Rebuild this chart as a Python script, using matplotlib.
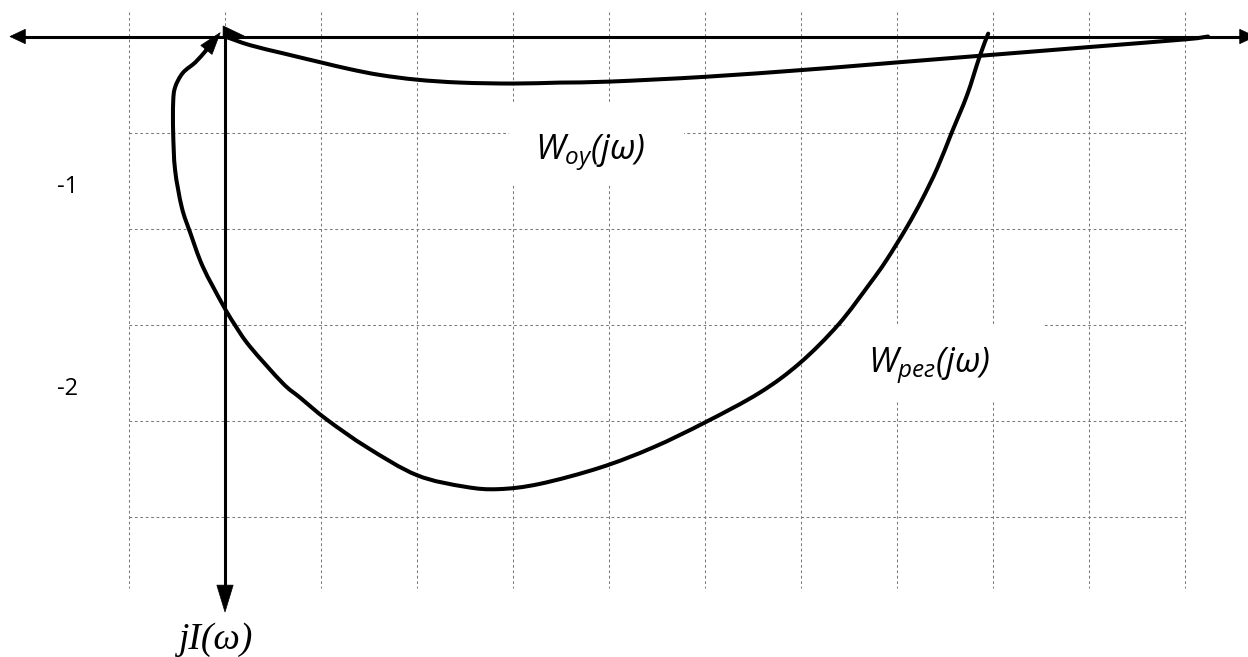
import matplotlib
matplotlib.use('Agg')
import matplotlib.pyplot as plt
from matplotlib.patches import Rectangle, Polygon, PathPatch
from matplotlib.path import Path
import numpy as np

plt.rcParams['mathtext.fontset'] = 'custom'
plt.rcParams['mathtext.rm'] = 'Open Sans:italic'
plt.rcParams['mathtext.it'] = 'Open Sans:italic'

# ---- data (grid units: one grid cell = 1) ----
grid_x = [-1, 0, 1, 2, 3, 4, 5, 6, 7, 8, 9, 10]
grid_y = [-1, -2, -3, -4, -5]

w_oy_re = [10.24, 10.0, 9.0, 8.0, 7.0, 6.51, 6.0, 5.0, 4.0, 3.49, 3.0, 2.45, 2.0, 1.61, 1.30, 1.0, 0.625, 0.26, 0.0]
w_oy_im = [0.0, -0.03, -0.11, -0.19, -0.27, -0.31, -0.35, -0.42, -0.47, -0.48, -0.49, -0.48, -0.45, -0.40, -0.34, -0.27, -0.18, -0.09, 0.0]

w_reg_re = [7.95, 7.86, 7.73, 7.57, 7.42, 7.26, 7.10, 6.89, 6.72, 6.39, 5.99, 5.57, 5.0, 4.46, 3.91, 3.28, 2.85,
            2.50, 2.0, 1.48, 1.06, 0.78, 0.60, 0.26, 0.10, -0.02, -0.23, -0.36, -0.45, -0.52, -0.54, -0.54,
            -0.52, -0.44, -0.31, -0.21, -0.05]
w_reg_im = [0.03, -0.21, -0.61, -1.0, -1.37, -1.70, -1.99, -2.33, -2.57, -3.0, -3.40, -3.71, -4.02, -4.28, -4.49, -4.66, -4.715,
            -4.69, -4.57, -4.28, -3.99, -3.76, -3.61, -3.23, -3.0, -2.80, -2.40, -2.05, -1.78, -1.39, -1.0, -0.69,
            -0.53, -0.38, -0.27, -0.16, 0.04]

y_tick_labels = ['-1', '-2']
y_tick_pos = [-1.57, -3.67]

# ---- figure ----
PX = 96.0
fig = plt.figure(figsize=(12.48, 6.57), dpi=100)
ax = fig.add_axes([0, 0, 1, 1])
ax.set_xlim(-225 / PX, (1248 - 225) / PX)
ax.set_ylim(-(657 - 36.5) / PX, 36.5 / PX)
ax.axis('off')

gcol = '#7a7a7a'
gls = (0, (2.6, 2.6))
for gx in grid_x:
    ax.plot([gx, gx], [0.255, -5.745], color=gcol, lw=0.75, ls=gls, zorder=1)
for gy in grid_y:
    ax.plot([grid_x[0], grid_x[-1]], [gy, gy], color=gcol, lw=0.75, ls=gls, zorder=1)

# white label boxes hiding the grid
ax.add_patch(Rectangle((2.96, -1.55), 1.82, 0.86, facecolor='white', edgecolor='none', zorder=2))
ax.add_patch(Rectangle((6.46, -3.79), 2.07, 0.80, facecolor='white', edgecolor='none', zorder=2))


def head(tip, frm, length, width, z=5):
    tip = np.asarray(tip, float)
    d = tip - np.asarray(frm, float)
    d /= np.hypot(*d)
    n = np.array([-d[1], d[0]])
    base = tip - d * length
    ax.add_patch(Polygon([tip, base + n * width / 2, base - n * width / 2],
                         closed=True, facecolor='black', edgecolor='black', lw=0.5, zorder=z))
    return base


def smooth_path(xs, ys):
    """Smooth Bezier path through the given points (Catmull-Rom tangents)."""
    P = np.column_stack([xs, ys]).astype(float)
    n = len(P)
    verts = [P[0]]
    codes = [Path.MOVETO]
    for i in range(n - 1):
        p0 = P[i - 1] if i > 0 else P[i]
        p1, p2 = P[i], P[i + 1]
        p3 = P[i + 2] if i + 2 < n else P[i + 1]
        c1 = p1 + (p2 - p0) / 6.0
        c2 = p2 - (p3 - p1) / 6.0
        verts += [c1, c2, p2]
        codes += [Path.CURVE4] * 3
    return Path(verts, codes)


# axes
ax.plot([-2.1, 10.6], [0, 0], color='black', lw=2.2, zorder=4)
head((-2.24, 0), (0, 0), 0.16, 0.15)
head((10.73, 0), (0, 0), 0.16, 0.15)
ax.plot([0, 0], [0, -5.75], color='black', lw=2.2, zorder=4)
head((0, -5.995), (0, 0), 0.28, 0.17)

# W_oy curve
ax.add_patch(PathPatch(smooth_path(w_oy_re, w_oy_im), facecolor='none', edgecolor='black',
                       lw=2.9, capstyle='round', joinstyle='round', zorder=3))
ax.add_patch(Polygon([(-0.02, 0.11), (-0.02, -0.016), (0.20, 0.005)], closed=True,
                     facecolor='black', edgecolor='black', lw=0.5, zorder=5))

# W_reg curve with arrowhead at the end
tip = (w_reg_re[-1], w_reg_im[-1])
prev = (w_reg_re[-2], w_reg_im[-2])
base = head(tip, prev, 0.23, 0.15)
xs = list(w_reg_re[:-1]) + [base[0]]
ys = list(w_reg_im[:-1]) + [base[1]]
ax.add_patch(PathPatch(smooth_path(xs, ys), facecolor='none', edgecolor='black',
                       lw=2.9, capstyle='round', joinstyle='round', zorder=3))

# labels
for lab, yp in zip(y_tick_labels, y_tick_pos):
    ax.text(-1.64, yp, lab, ha='center', va='center', fontsize=17, family='Open Sans', zorder=6)

ax.text(3.80, -1.22, r'$W_{оу}(j\omega)$', ha='center', va='center', fontsize=25, zorder=6)
ax.text(7.34, -3.44, r'$W_{рег}(j\omega)$', ha='center', va='center', fontsize=25, zorder=6)
ax.text(-0.10, -6.28, 'jI(ω)', ha='center', va='center', fontsize=27, family='Liberation Serif',
        style='italic', zorder=6)

fig.savefig('out.png', dpi=100)
